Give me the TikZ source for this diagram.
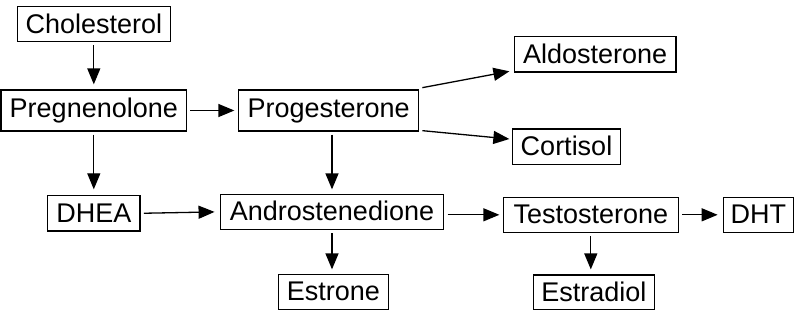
\documentclass[tikz,border=0pt]{standalone}
\usepackage{fontspec}
\setmainfont{Liberation Sans}
\usetikzlibrary{arrows.meta,calc}
\begin{document}
\begin{tikzpicture}[x=1pt,y=-1pt,
  box/.style={draw,line width=1.3pt,inner sep=0pt,text height=18pt,text depth=0pt,
    font=\fontsize{27}{30}\selectfont},
  tallbox/.style={box,text height=14.6pt},
  arr/.style={line width=1.3pt,-{Triangle[length=16pt,width=13pt]}}]
\useasboundingbox[fill=white] (0,0) rectangle (800,317);
\node[box,minimum width=153pt,minimum height=35pt] (chol) at (93.8,24.2) {Cholesterol};
\node[tallbox,minimum width=185.7pt,minimum height=41pt] (preg) at (93.8,110.5) {Pregnenolone};
\node[tallbox,minimum width=180pt,minimum height=41pt] (prog) at (328.7,110.5) {Progesterone};
\node[box,minimum width=161.7pt,minimum height=35.3pt] (ald) at (595.2,54.3) {Aldosterone};
\node[box,minimum width=108.4pt,minimum height=35.3pt] (cort) at (566.5,146.7) {Cortisol};
\node[box,minimum width=92.3pt,minimum height=35.3pt] (dhea) at (93.8,213.3) {DHEA};
\node[box,minimum width=222.6pt,minimum height=35pt] (andro) at (332,211.8) {Androstenedione};
\node[box,minimum width=175pt,minimum height=35pt] (test) at (590.8,214.8) {Testosterone};
\node[box,minimum width=70pt,minimum height=35pt] (dht) at (758.3,214.8) {DHT};
\node[box,minimum width=110pt,minimum height=35pt] (estrone) at (333.3,291.8) {Estrone};
\node[box,minimum width=121pt,minimum height=34.3pt] (estradiol) at (593.8,292.2) {Estradiol};

\draw[arr,shorten <=3pt,shorten >=5pt] (chol.south) -- (preg.north);
\draw[arr,shorten <=3pt,shorten >=3.7pt] (preg.east) -- (prog.west);
\draw[arr,shorten <=3pt,shorten >=5.7pt] (preg.south) -- (dhea.north);
\draw[arr,shorten <=3pt,shorten >=4.3pt] (prog.south -| andro.north) -- (andro.north);
\draw[arr] ($(prog.north east)+(3,-1.7)$) -- ($(ald.south west)+(-4.3,-1.3)$);
\draw[arr] ($(prog.south east)+(3,-1)$) -- ($(cort.west)+(-2.3,-7.7)$);
\draw[arr,shorten <=3.3pt,shorten >=5.5pt] (dhea.east) -- (andro.west);
\draw[arr,shorten <=3.7pt,shorten >=3.3pt] (andro.east |- test.west) -- (test.west);
\draw[arr,shorten <=3.4pt,shorten >=5pt] (test.east) -- (dht.west);
\draw[arr,shorten <=3.4pt,shorten >=4.3pt] (andro.south) -- (andro.south |- estrone.north);
\draw[arr,shorten <=3pt,shorten >=5pt] (test.south) -- (test.south |- estradiol.north);
\end{tikzpicture}
\end{document}
